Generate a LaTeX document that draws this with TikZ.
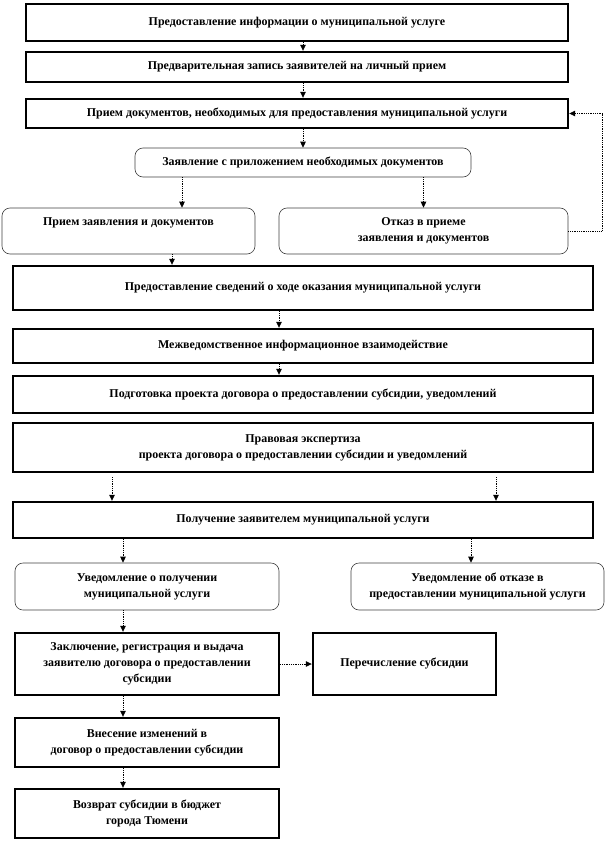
\documentclass[tikz,border=0pt]{standalone}
\usepackage{fontspec}
\setmainfont{Liberation Serif}
\usetikzlibrary{arrows.meta}
\tikzset{
  stage/.style = {draw=black, line width=2.4bp, fill=white, align=center,
                  font=\bfseries\fontsize{12}{16}\selectfont, inner sep=2bp},
  soft/.style  = {draw=black!75, line width=0.6bp, rounded corners=8bp,
                  fill=white, align=center, font=\bfseries\fontsize{12}{16}\selectfont, inner sep=2bp},
  fl/.style    = {-{Triangle[length=6bp,width=5.5bp]}, draw=black, densely dotted, line width=0.8bp}
}

\begin{document}
\begin{tikzpicture}[x=1bp, y=-1bp]
  \useasboundingbox (0,0) rectangle (606,842);
  \node[stage, minimum width=542bp, minimum height=37bp] (info) at (297,22.5) {Предоставление информации о муниципальной услуге};
  \node[stage, minimum width=542bp, minimum height=30bp] (prereg) at (297,67) {Предварительная запись заявителей на личный прием};
  \node[stage, minimum width=542bp, minimum height=29bp] (docs) at (297,113.5) {Прием документов, необходимых для предоставления муниципальной услуги};
  \node[soft, minimum width=336bp, minimum height=29bp] (appl) at (303,162.5) {Заявление с приложением необходимых документов};
  \node[soft, minimum width=253bp, minimum height=46bp, text depth=18bp] (accept) at (128.5,231) {Прием заявления и документов};
  \node[soft, minimum width=289bp, minimum height=46bp] (refuse) at (423.5,231) {Отказ в приеме\\заявления и документов};
  \node[stage, minimum width=580bp, minimum height=44bp] (status) at (303,288) {Предоставление сведений о ходе оказания муниципальной услуги};
  \node[stage, minimum width=580bp, minimum height=34bp] (inter) at (303,346) {Межведомственное информационное взаимодействие};
  \node[stage, minimum width=580bp, minimum height=37bp] (draft) at (303,394.5) {Подготовка проекта договора о предоставлении субсидии, уведомлений};
  \node[stage, minimum width=580bp, minimum height=49bp] (expert) at (303,447.5) {Правовая экспертиза\\проекта договора о предоставлении субсидии и уведомлений};
  \node[stage, minimum width=580bp, minimum height=36bp] (receive) at (303,520) {Получение заявителем муниципальной услуги};
  \node[soft, minimum width=264bp, minimum height=47bp] (notok) at (147,586.5) {Уведомление о получении\\муниципальной услуги};
  \node[soft, minimum width=253bp, minimum height=47bp] (notno) at (477.5,586.5) {Уведомление об отказе в\\предоставлении муниципальной услуги};
  \node[stage, minimum width=264bp, minimum height=62bp] (contract) at (147,664) {Заключение, регистрация и выдача\\заявителю договора о предоставлении\\субсидии};
  \node[stage, minimum width=183bp, minimum height=62bp] (transfer) at (404.5,664) {Перечисление субсидии};
  \node[stage, minimum width=264bp, minimum height=49bp] (amend) at (147,742.5) {Внесение изменений в\\договор о предоставлении субсидии};
  \node[stage, minimum width=264bp, minimum height=49bp] (refund) at (147,813.5) {Возврат субсидии в бюджет\\города Тюмени};

  \draw[fl] ([xshift=6bp]info.south) coordinate (c1) -- (c1 |- prereg.north);
  \draw[fl] ([xshift=6bp]prereg.south) coordinate (c2) -- (c2 |- docs.north);
  \draw[fl] (docs.south -| appl.north) -- (appl.north);
  \draw[fl] ([xshift=-121bp]appl.south) coordinate (c3) -- (c3 |- accept.north);
  \draw[fl] (appl.south -| refuse.north) -- (refuse.north);
  \draw[fl] ([xshift=43.5bp]accept.south) coordinate (c4) -- (c4 |- status.north);
  \draw[fl] (refuse.east) -- ++(34,0) |- (docs.east);
  \draw[fl] ([xshift=-24bp]status.south) coordinate (c5) -- (c5 |- inter.north);
  \draw[fl] ([xshift=-24bp]inter.south) coordinate (c6) -- (c6 |- draft.north);
  \draw[fl, shorten <=4bp] ([xshift=-191bp]expert.south) coordinate (c7) -- (c7 |- receive.north);
  \draw[fl, shorten <=4bp] ([xshift=193bp]expert.south) coordinate (c8) -- (c8 |- receive.north);
  \coordinate (c9) at ([xshift=-24bp]notok.north);
  \coordinate (c10) at ([xshift=-6.5bp]notno.north);
  \draw[fl] (receive.south -| c9) -- (c9);
  \draw[fl] (receive.south -| c10) -- (c10);
  \draw[fl] ([xshift=-24bp]notok.south) coordinate (c11) -- (c11 |- contract.north);
  \draw[fl] (contract.east) -- (transfer.west);
  \draw[fl] ([xshift=-24bp]contract.south) coordinate (c12) -- (c12 |- amend.north);
  \draw[fl] ([xshift=-24bp]amend.south) coordinate (c13) -- (c13 |- refund.north);
\end{tikzpicture}
\end{document}
